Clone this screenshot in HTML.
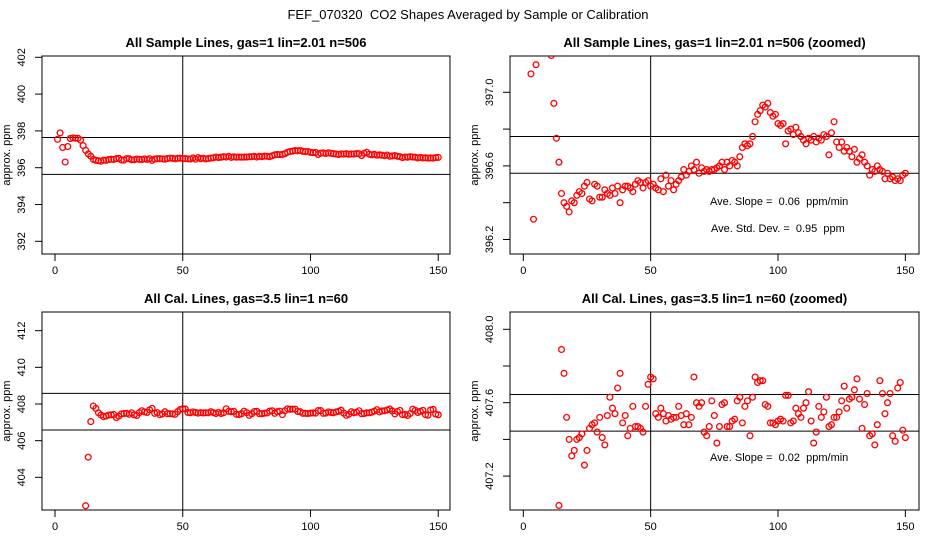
<!DOCTYPE html>
<html><head><meta charset="utf-8">
<style>
html,body{margin:0;padding:0;background:#fff;width:936px;height:540px;overflow:hidden;}
svg{display:block;font-family:"Liberation Sans",sans-serif;}
text{white-space:pre;}
</style></head>
<body>
<svg id="chart" width="936" height="540" viewBox="0 0 936 540">
<text x="468" y="19" text-anchor="middle" font-size="13">FEF_070320  CO2 Shapes Averaged by Sample or Calibration</text>
</svg>
<script>
// ---- data ----
const sampleT = [];
for (let i = 1; i <= 150; i++) sampleT.push(i);
const sampleValues = [
397.54,397.89,397.10,396.31,397.15,397.59,397.62,397.60,397.60,397.50,397.20,396.94,396.75,396.62,396.45,396.40,396.38,396.35,
396.41,396.40,396.44,396.46,396.45,396.49,396.51,396.42,396.41,396.50,396.49,396.43,396.43,396.47,396.45,396.44,396.48,396.45,396.49,396.40,396.47,396.49,396.49,396.48,396.46,396.50,396.52,396.51,396.48,396.51,396.52,396.49,
396.50,396.48,396.47,396.53,396.46,396.55,396.49,396.52,396.47,396.50,396.52,396.54,396.58,396.55,396.57,396.60,396.58,396.62,396.56,396.59,396.57,396.58,
396.57,396.58,396.58,396.59,396.60,396.62,396.58,396.62,396.60,396.63,396.62,396.60,
396.65,396.70,396.72,396.71,396.72,396.76,396.84,396.88,396.90,396.93,396.92,396.94,396.89,396.87,396.88,396.83,396.82,396.83,396.72,396.79,396.80,396.77,396.81,396.78,396.76,396.74,396.72,396.75,396.74,396.76,396.73,396.75,396.74,396.77,396.76,396.66,396.78,396.84,396.73,396.70,396.73,396.68,396.70,396.68,396.65,396.69,396.62,396.64,396.66,396.62,396.60,396.55,396.58,396.57,396.60,396.58,396.57,396.53,396.56,396.53,396.54,396.52,396.53,396.52,396.55,396.56];
const calT = [];
for (let i = 12; i <= 150; i++) calT.push(i);
const calValues = [402.45,405.10,407.04,407.89,407.76,407.52,407.40,407.31,407.34,407.40,407.41,407.43,407.26,407.34,407.46,407.48,407.49,407.44,407.52,407.41,407.37,407.53,407.63,407.57,407.54,407.68,407.76,407.49,407.53,407.42,407.46,407.58,407.47,407.47,407.46,407.44,407.58,407.70,407.74,407.73,407.54,407.52,407.57,407.54,407.50,407.53,407.51,407.52,407.52,407.58,407.53,407.48,407.54,407.48,407.52,407.74,407.60,407.58,407.60,407.44,407.42,407.47,407.61,407.53,407.38,407.47,
407.59,407.60,407.47,407.47,407.50,407.51,407.61,407.63,407.49,407.58,407.61,407.42,407.63,407.74,407.71,407.72,407.72,407.59,407.58,407.49,407.49,407.48,407.50,407.51,407.50,407.64,407.64,407.49,407.50,407.57,407.54,407.52,407.57,407.60,407.66,407.50,407.38,407.44,407.58,407.52,407.55,407.63,407.47,407.48,407.52,407.52,407.55,407.61,407.69,407.57,407.62,407.63,407.67,407.73,407.62,407.46,407.59,407.65,407.42,407.43,407.37,407.48,407.72,407.65,407.54,407.60,407.65,407.42,407.39,407.68,407.71,407.45,407.41];
const xTicks = [0,50,100,150];
const p1YTicks = [392,394,396,398,400,402];
const p2YTicks = [396.2,396.4,396.6,396.8,397.0];
const p3YTicks = [404,406,408,410,412];
const p4YTicks = [407.2,407.4,407.6,407.8,408.0];
const p2Labels = ["396.2","","396.6","","397.0"];
const p4Labels = ["407.2","","407.6","","408.0"];
const p1HLines = [397.64,395.64];
const p2HLines = [396.76,396.56];
const p3HLines = [408.58,406.58];
const p4HLines = [407.645,407.445];

const NS = "http://www.w3.org/2000/svg";
const svg = document.getElementById('chart');
function mk(tag, attrs, parent) {
  const e = document.createElementNS(NS, tag);
  for (const k in attrs) e.setAttribute(k, attrs[k]);
  (parent || svg).appendChild(e);
  return e;
}

function panel(cfg) {
  const g = mk('g', {});
  
  
  const L = cfg.left, R = cfg.right, T = cfg.top, B = cfg.bottom;
  const xs = t => cfg.x0 + t * cfg.xk;
  const ys = v => cfg.yRef - (v - cfg.vRef) * cfg.yk;
  const cid = 'clip-' + cfg.name;
  const defs = mk('defs', {}, g);
  const cp = mk('clipPath', {id: cid}, defs);
  mk('rect', {x: L, y: T, width: R - L, height: B - T}, cp);
  const tt = mk('text', {x: (L + R) / 2, y: T - 9, 'text-anchor': 'middle', 'font-size': 13, 'font-weight': 'bold'}, g);
  tt.textContent = cfg.title;
  
  
  const fr = mk('rect', {x: L, y: T, width: R - L, height: B - T, fill: 'none', stroke: '#000', 'stroke-width': 1}, g);
  
  
  xTicks.forEach(t => {
    const x = xs(t);
    mk('line', {x1: x, x2: x, y1: B, y2: B + 7, stroke: '#000'}, g);
    const lb = mk('text', {x: x, y: B + 20, 'text-anchor': 'middle', 'font-size': 11}, g);
    lb.textContent = t;
    
    
  });
  cfg.yTicks.forEach((v, i) => {
    const y = ys(v);
    mk('line', {x1: L - 7, x2: L, y1: y, y2: y, stroke: '#000'}, g);
    const txt = cfg.yLabels ? cfg.yLabels[i] : String(v);
    if (txt) {
      const lx = L - 17;
      const lb = mk('text', {x: lx, y: y, 'text-anchor': 'middle', 'font-size': 11, transform: 'rotate(-90 ' + lx + ' ' + y + ')'}, g);
      lb.textContent = txt;
      
      
    }
  });
  const ax = L - 32, ay = (T + B) / 2;
  const yl = mk('text', {x: ax, y: ay, 'text-anchor': 'middle', 'font-size': 11, transform: 'rotate(-90 ' + ax + ' ' + ay + ')'}, g);
  yl.textContent = 'approx. ppm';
  
  
  const vx = xs(50);
  const vl = mk('line', {x1: vx, x2: vx, y1: T, y2: B, stroke: '#000'}, g);
  
  
  cfg.hLines.forEach(v => {
    const hl = mk('line', {x1: L, x2: R, y1: ys(v), y2: ys(v), stroke: '#000'}, g);
    
    
  });
  const pg = mk('g', {'clip-path': 'url(#' + cid + ')'}, g);
  cfg.t.forEach((t, i) => {
    const c = mk('circle', {cx: xs(t), cy: ys(cfg.v[i]), r: 2.9, fill: 'none', stroke: '#ff0000', 'stroke-width': 1.3}, pg);
    
    
  });
  (cfg.notes || []).forEach(n => {
    const nt = mk('text', {x: n[0], y: n[1], 'font-size': 11}, g);
    nt.textContent = n[2];
    
    
  });
}

panel({name:'sample-panel', title:'All Sample Lines, gas=1 lin=2.01 n=506', left:42, right:450, top:56, bottom:254,
  x0:55, xk:2.555, yRef:167.7, vRef:396, yk:18.4, yTicks:p1YTicks, hLines:p1HLines, t:sampleT, v:sampleValues});
panel({name:'sample-zoomed-panel', title:'All Sample Lines, gas=1 lin=2.01 n=506 (zoomed)', left:510, right:919, top:56, bottom:254,
  x0:523.3, xk:2.547, yRef:92.3, vRef:397, yk:184, yTicks:p2YTicks, yLabels:p2Labels, hLines:p2HLines, t:sampleT, v:sampleValues,
  notes:[[710,205,'Ave. Slope =  0.06  ppm/min'],[711,232,'Ave. Std. Dev. =  0.95  ppm']]});
panel({name:'cal-panel', title:'All Cal. Lines, gas=3.5 lin=1 n=60', left:42, right:450, top:312, bottom:510,
  x0:55, xk:2.555, yRef:404, vRef:408, yk:18.33, yTicks:p3YTicks, hLines:p3HLines, t:calT, v:calValues});
panel({name:'cal-zoomed-panel', title:'All Cal. Lines, gas=3.5 lin=1 n=60 (zoomed)', left:510, right:919, top:312, bottom:510,
  x0:523.3, xk:2.547, yRef:329.3, vRef:408, yk:183.5, yTicks:p4YTicks, yLabels:p4Labels, hLines:p4HLines, t:calT, v:calValues,
  notes:[[710,461,'Ave. Slope =  0.02  ppm/min']]});
</script>
</body></html>
